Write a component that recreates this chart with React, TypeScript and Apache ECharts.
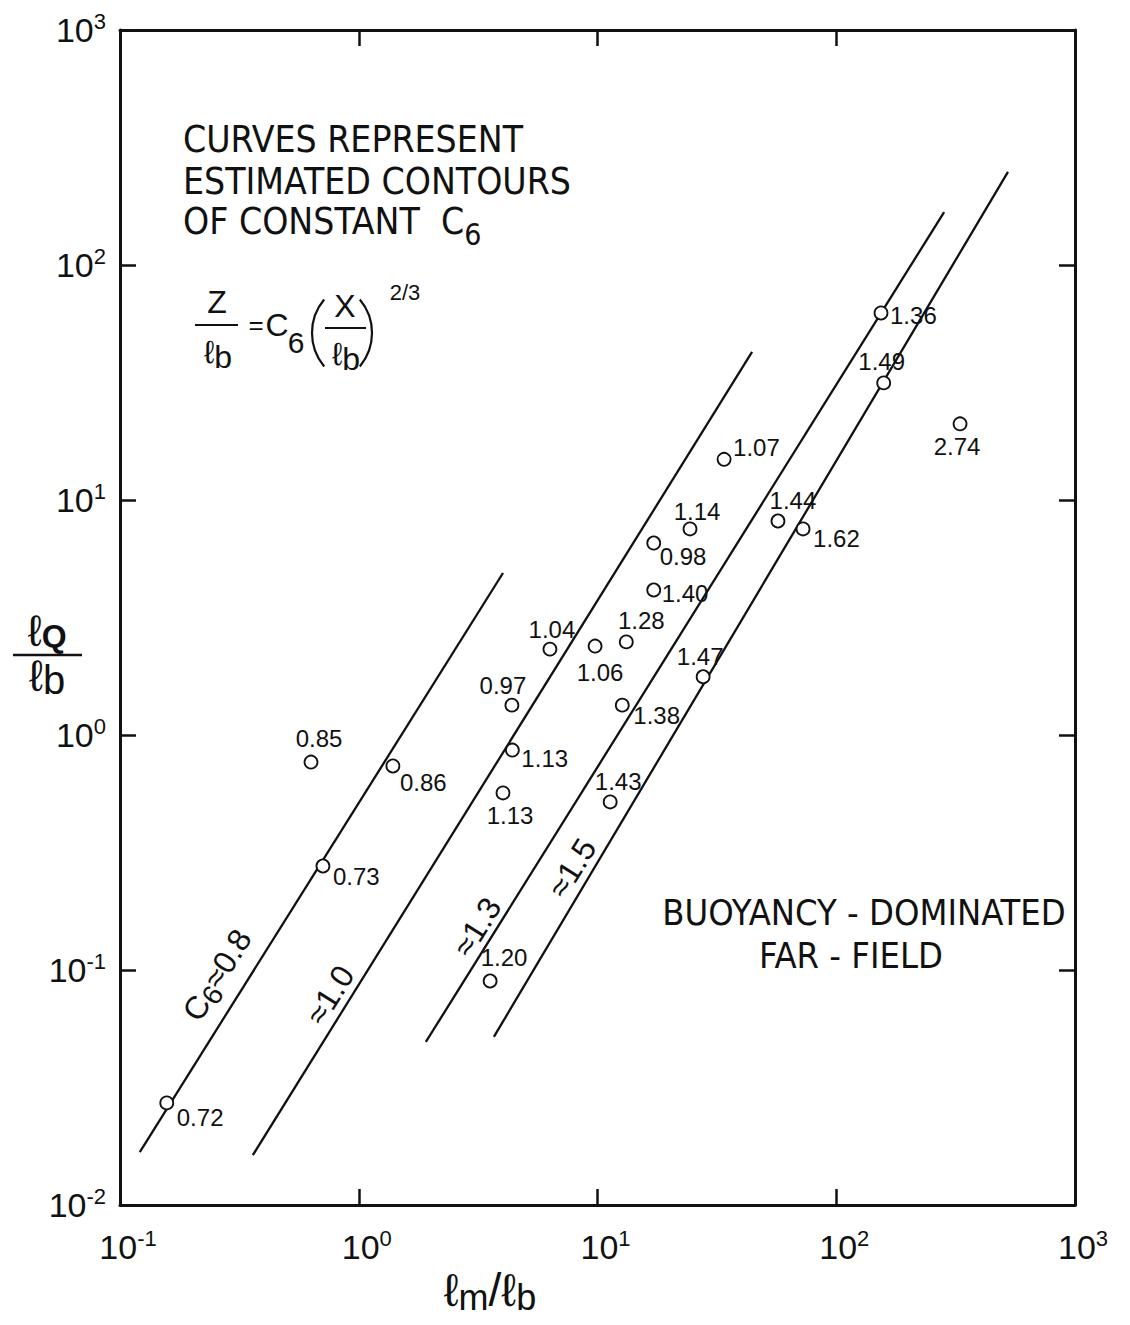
import React, { useEffect, useRef } from "react";
import * as echarts from "echarts";

// ---------- data ----------
const xTickExponents = ["-1", "0", "1", "2", "3"];
const yTickExponents = ["-2", "-1", "0", "1", "2", "3"];

// measured points: l_m/l_b, l_Q/l_b, C6 value
const pointX = [0.157, 0.708, 0.631, 1.39, 4.38, 4.4, 4.02, 3.55, 6.32, 9.77, 13.2, 12.7, 11.3, 17.2, 17.2, 24.4, 33.9, 27.7, 57.0, 72.6, 154, 158, 330];
const pointY = [0.0272, 0.277, 0.767, 0.738, 1.34, 0.863, 0.567, 0.0898, 2.32, 2.39, 2.49, 1.34, 0.519, 6.56, 4.14, 7.53, 14.9, 1.77, 8.14, 7.53, 62.5, 31.5, 21.1];
const pointC6 = ["0.72", "0.73", "0.85", "0.86", "0.97", "1.13", "1.13", "1.20", "1.04", "1.06", "1.28", "1.38", "1.43", "0.98", "1.40", "1.14", "1.07", "1.47", "1.44", "1.62", "1.36", "1.49", "2.74"];

// estimated contours of constant C6 (end points)
const contourNames = ["0.8", "1.0", "1.3", "1.5"];
const contourX = [[0.121, 4.02], [0.36, 44.4], [1.91, 283], [3.68, 524]];
const contourY = [[0.0168, 4.89], [0.0163, 42.7], [0.0494, 168], [0.0519, 249]];

// ---------- layout (label placement, px) ----------
const labelLayout: [number, number, string][] = [
  [10, 15, "left"], [10, 10, "left"], [8, -24, "center"], [7, 16, "left"],
  [-9, -20, "center"], [9, 8, "left"], [7, 23, "center"], [14, -23, "center"],
  [2, -20, "center"], [5, 26, "center"], [15, -21, "center"], [11, 10, "left"],
  [8, -20, "center"], [6, 13, "left"], [8, 3, "left"], [7, -17, "center"],
  [9, -12, "left"], [-3, -20, "center"], [15, -21, "center"], [10, 10, "left"],
  [9, 3, "left"], [-2, -21, "center"], [-3, 23, "center"],
];
const contourLabelPos: [number, number][] = [[217, 975], [330, 995], [477, 927], [572, 868]];

const SANS = "'Liberation Sans', 'DejaVu Sans', sans-serif";
const NARROW = "'Liberation Sans Narrow', 'DejaVu Sans Condensed', sans-serif";
const INK = "#111";

export default function App() {
  const ref = useRef<HTMLDivElement>(null);
  useEffect(() => {
    document.body.style.margin = "0";
    const chart = echarts.init(ref.current!, null, { renderer: "svg" });

    const tickRich = {
      b: { fontSize: 34, lineHeight: 40, color: INK, fontFamily: SANS },
      s: { fontSize: 22, lineHeight: 22, verticalAlign: "top", color: INK, fontFamily: SANS },
    };

    const axisCommon = {
      type: "log" as const,
      logBase: 10,
      interval: 1,
      axisLine: { show: true, lineStyle: { color: INK, width: 3 } },
      axisTick: { show: true, inside: true, length: 16, lineStyle: { color: INK, width: 2.5 } },
      splitLine: { show: false },
      minorTick: { show: false },
    };

    const scatterData = pointX.map((x, i) => ({
      value: [x, pointY[i]],
      name: pointC6[i],
      label: {
        offset: [labelLayout[i][0], labelLayout[i][1]],
        align: labelLayout[i][2],
      },
    }));

    const contourSeries = contourNames.map((n, k) => ({
      type: "line",
      name: n,
      data: contourX[k].map((x, j) => [x, contourY[k][j]]),
      showSymbol: false,
      symbol: "none",
      lineStyle: { color: INK, width: 2.3 },
      z: 2,
      silent: true,
    }));

    const contourLabelTexts = [
      "{t|C}{sub|6}{t|≈0.8}",
      "{t|≈1.0}",
      "{t|≈1.3}",
      "{t|≈1.5}",
    ];
    const angle = (58 * Math.PI) / 180;
    const parenHalf = (40 * Math.PI) / 180;

    const graphic: any[] = [
      // top-left note
      { type: "text", left: 183, top: 121, style: { text: "CURVES REPRESENT", fontSize: 37, fontFamily: NARROW, fill: INK } },
      { type: "text", left: 183, top: 163, style: { text: "ESTIMATED CONTOURS", fontSize: 37, fontFamily: NARROW, fill: INK } },
      {
        type: "text", left: 183, top: 203,
        style: {
          text: "{t|OF CONSTANT  C}{sub|6}",
          rich: {
            t: { fontSize: 37, fontFamily: NARROW, fill: INK, lineHeight: 38, verticalAlign: "top" },
            sub: { fontSize: 30, fontFamily: NARROW, fill: INK, lineHeight: 46, verticalAlign: "bottom" },
          },
        },
      },
      // equation
      { type: "text", x: 217, y: 302, style: { text: "Z", fontSize: 32, fontFamily: SANS, fill: INK, align: "center", verticalAlign: "middle" } },
      { type: "line", shape: { x1: 195, y1: 325, x2: 238, y2: 325 }, style: { stroke: INK, lineWidth: 2 } },
      {
        type: "text", x: 218, y: 352,
        style: {
          text: "{l|ℓ}{b|b}", align: "center", verticalAlign: "middle",
          rich: { l: { fontSize: 32, fontFamily: SANS, fill: INK }, b: { fontSize: 32, fontFamily: SANS, fill: INK, padding: [10, 0, 0, 0] } },
        },
      },
      { type: "text", x: 256, y: 325, style: { text: "=", fontSize: 26, fontFamily: SANS, fill: INK, align: "center", verticalAlign: "middle" } },
      { type: "text", x: 277, y: 325, style: { text: "C", fontSize: 32, fontFamily: SANS, fill: INK, align: "center", verticalAlign: "middle" } },
      { type: "text", x: 296, y: 342, style: { text: "6", fontSize: 30, fontFamily: SANS, fill: INK, align: "center", verticalAlign: "middle" } },
      {
        type: "arc",
        shape: { cx: 364, cy: 333, r: 52, startAngle: Math.PI - parenHalf, endAngle: Math.PI + parenHalf, clockwise: true },
        style: { stroke: INK, lineWidth: 2.2, fill: "none" },
      },
      { type: "text", x: 345, y: 306, style: { text: "X", fontSize: 32, fontFamily: SANS, fill: INK, align: "center", verticalAlign: "middle" } },
      { type: "line", shape: { x1: 325, y1: 328, x2: 366, y2: 328 }, style: { stroke: INK, lineWidth: 2 } },
      {
        type: "text", x: 346, y: 354,
        style: {
          text: "{l|ℓ}{b|b}", align: "center", verticalAlign: "middle",
          rich: { l: { fontSize: 32, fontFamily: SANS, fill: INK }, b: { fontSize: 32, fontFamily: SANS, fill: INK, padding: [10, 0, 0, 0] } },
        },
      },
      {
        type: "arc",
        shape: { cx: 320, cy: 333, r: 52, startAngle: -parenHalf, endAngle: parenHalf, clockwise: true },
        style: { stroke: INK, lineWidth: 2.2, fill: "none" },
      },
      { type: "text", x: 405, y: 292, style: { text: "2/3", fontSize: 22, fontFamily: SANS, fill: INK, align: "center", verticalAlign: "middle" } },
      // far-field note
      { type: "text", x: 864, y: 912, style: { text: "BUOYANCY - DOMINATED", fontSize: 36, fontFamily: NARROW, fill: INK, align: "center", verticalAlign: "middle" } },
      { type: "text", x: 851, y: 955, style: { text: "FAR - FIELD", fontSize: 36, fontFamily: NARROW, fill: INK, align: "center", verticalAlign: "middle" } },
      // y-axis title (fraction)
      {
        type: "text", x: 47, y: 630,
        style: {
          text: "{l|ℓ}{q|Q}", align: "center", verticalAlign: "middle",
          rich: { l: { fontSize: 44, fontFamily: SANS, fill: INK }, q: { fontSize: 32, fontFamily: SANS, fill: INK, fontWeight: "bold", padding: [12, 0, 0, 0] } },
        },
      },
      { type: "line", shape: { x1: 13, y1: 655, x2: 82, y2: 655 }, style: { stroke: INK, lineWidth: 2.5 } },
      {
        type: "text", x: 47, y: 675,
        style: {
          text: "{l|ℓ}{b|b}", align: "center", verticalAlign: "middle",
          rich: { l: { fontSize: 44, fontFamily: SANS, fill: INK }, b: { fontSize: 40, fontFamily: SANS, fill: INK, padding: [10, 0, 0, 0] } },
        },
      },
      // x-axis title
      {
        type: "text", x: 490, y: 1290,
        style: {
          text: "{l|ℓ}{s|m}{l|/ℓ}{s|b}", align: "center", verticalAlign: "middle",
          rich: {
            l: { fontSize: 46, fontFamily: SANS, fill: INK },
            s: { fontSize: 36, fontFamily: SANS, fill: INK, padding: [14, 0, 0, 0] },
          },
        },
      },
    ];

    contourLabelTexts.forEach((t, k) => {
      graphic.push({
        type: "text",
        x: contourLabelPos[k][0],
        y: contourLabelPos[k][1],
        rotation: angle,
        style: {
          text: t, align: "center", verticalAlign: "middle",
          rich: {
            t: { fontSize: 32, fontFamily: SANS, fill: INK },
            sub: { fontSize: 28, fontFamily: SANS, fill: INK, padding: [14, 0, 0, 0] },
          },
        },
      });
    });

    chart.setOption({
      animation: false,
      backgroundColor: "#fff",
      grid: { left: 120, right: 55, top: 30, bottom: 120, containLabel: false },
      xAxis: [
        {
          ...axisCommon, min: 0.1, max: 1000, position: "bottom",
          axisLabel: {
            show: true, margin: 22, padding: [0, 0, 0, 16],
            formatter: (_v: number, i: number) => `{b|10}{s|${xTickExponents[i]}}`,
            rich: tickRich,
          },
        },
        { ...axisCommon, min: 0.1, max: 1000, position: "top", axisLabel: { show: false } },
      ],
      yAxis: [
        {
          ...axisCommon, min: 0.01, max: 1000, position: "left",
          axisLabel: {
            show: true, margin: 14,
            formatter: (_v: number, i: number) => `{b|10}{s|${yTickExponents[i]}}`,
            rich: tickRich,
          },
        },
        { ...axisCommon, min: 0.01, max: 1000, position: "right", axisLabel: { show: false } },
      ],
      series: [
        ...contourSeries,
        {
          type: "scatter",
          data: scatterData,
          symbol: "circle",
          symbolSize: 13,
          itemStyle: { color: "#fff", borderColor: INK, borderWidth: 1.8, opacity: 1 },
          label: {
            show: true,
            position: "inside",
            formatter: (p: any) => p.name,
            fontSize: 24,
            fontFamily: SANS,
            color: INK,
            verticalAlign: "middle",
          },
          z: 3,
        },
      ],
      graphic,
    });
    return () => chart.dispose();
  }, []);
  return <div ref={ref} style={{ width: 1130, height: 1325, background: "#fff" }} />;
}
